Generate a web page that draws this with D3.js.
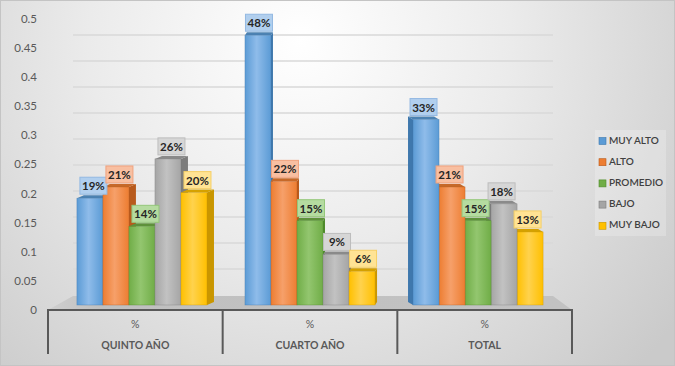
<!DOCTYPE html>
<html><head><meta charset="utf-8">
<script src="https://cdn.jsdelivr.net/npm/d3@7"></script>
<style>html,body{margin:0;padding:0;overflow:hidden;background:#fff}</style>
</head><body>
<svg id="c" width="675" height="366"></svg>
<script>
const categories = ["QUINTO AÑO", "CUARTO AÑO", "TOTAL"];
const subLabels = ["%", "%", "%"];
const seriesNames = ["MUY ALTO", "ALTO", "PROMEDIO", "BAJO", "MUY BAJO"];
const muyAlto = [0.19, 0.48, 0.33];
const alto = [0.21, 0.22, 0.21];
const promedio = [0.14, 0.15, 0.15];
const bajo = [0.26, 0.09, 0.18];
const muyBajo = [0.20, 0.06, 0.13];
const yTicks = [0, 0.05, 0.1, 0.15, 0.2, 0.25, 0.3, 0.35, 0.4, 0.45, 0.5];

const seriesValues = [muyAlto, alto, promedio, bajo, muyBajo];
const colors = ["#5B9BD5", "#ED7D31", "#70AD47", "#A5A5A5", "#FFC000"];
const lightColors = ["#8fbcea", "#f6a06a", "#93c66f", "#c2c2c2", "#ffd24d"];
const darkColors = ["#3f78ad", "#b85a1c", "#4f8a2c", "#7c7c7c", "#c99600"];
const boxFill = ["#b1cfee", "#f8bfa1", "#b5dba0", "#d6d6d6", "#ffe394"];
const boxStroke = ["#94b9e2", "#f0a27d", "#94c77a", "#bdbdbd", "#f5cf66"];

const svg = d3.select("#c");
const W = 675, H = 366;
const defs = svg.append("defs");
const FONT = "Lato, 'Open Sans', sans-serif";

// background
const bg = defs.append("radialGradient").attr("id", "bg")
  .attr("gradientUnits", "userSpaceOnUse").attr("cx", 300).attr("cy", 40).attr("r", 470);
bg.append("stop").attr("offset", 0).attr("stop-color", "#ffffff");
bg.append("stop").attr("offset", 0.45).attr("stop-color", "#ebebeb");
bg.append("stop").attr("offset", 1).attr("stop-color", "#cacaca");
svg.append("rect").attr("width", W).attr("height", H).attr("fill", "url(#bg)");
svg.append("rect").attr("x", 0.5).attr("y", 0.5).attr("width", W - 1).attr("height", H - 1)
  .attr("fill", "none").attr("stroke", "#c4c4c4");

// bar gradients
colors.forEach((c, i) => {
  const g = defs.append("linearGradient").attr("id", "g" + i).attr("x1", 0).attr("x2", 1).attr("y1", 0).attr("y2", 0);
  g.append("stop").attr("offset", 0).attr("stop-color", c);
  g.append("stop").attr("offset", 0.45).attr("stop-color", lightColors[i]);
  g.append("stop").attr("offset", 1).attr("stop-color", c);
});

// scales
const yFront = d3.scaleLinear().domain([0, 0.5]).range([305, 24]);
const yBack = d3.scaleLinear().domain([0, 0.5]).range([295, 35]);
const yLab = d3.scaleLinear().domain([0, 0.5]).range([311, 20]);
const xAxis = d3.scaleBand().domain(categories).range([48, 572]).padding(0);
const x0 = d3.scaleBand().domain(categories).range([48, 572]).paddingInner(0.226).paddingOuter(0.172);
const x1 = d3.scaleBand().domain(seriesNames).range([0, x0.bandwidth()]).padding(0);
const depthX = [7, 2, -5];
const depthY = -3;

// back wall gridlines
svg.append("g").selectAll("line").data(yTicks.slice(1)).join("line")
  .attr("x1", 73).attr("x2", 553)
  .attr("y1", d => yBack(d)).attr("y2", d => yBack(d))
  .attr("stroke", "#d9d9d9").attr("stroke-width", 1.3);

// floor
const floorGrad = defs.append("linearGradient").attr("id", "floor").attr("x1", 0).attr("x2", 1);
floorGrad.append("stop").attr("offset", 0).attr("stop-color", "#cfcfcf");
floorGrad.append("stop").attr("offset", 0.1).attr("stop-color", "#c0c0c0");
floorGrad.append("stop").attr("offset", 1).attr("stop-color", "#c2c2c2");
svg.append("path")
  .attr("d", `M48,${yFront(0) + 5}L73,${yBack(0) + 1}L553,${yBack(0) + 1}L572,${yFront(0) + 5}Z`)
  .attr("fill", "url(#floor)");

// y labels
svg.append("g").selectAll("text").data(yTicks).join("text")
  .attr("x", 37).attr("y", d => yLab(d)).attr("text-anchor", "end")
  .attr("dominant-baseline", "middle")
  .attr("font-family", FONT).attr("font-size", 11.5)
  .attr("fill", "#595959").text(d => String(+d.toFixed(2)));

// bars
const barsG = svg.append("g");
categories.forEach((cat, ci) => {
  const dx = depthX[ci];
  let order = seriesNames.map((s, si) => si);
  if (dx < 0) order = order.reverse();
  order.forEach(si => {
    const v = seriesValues[si][ci];
    const x = x0(cat) + x1(seriesNames[si]);
    const w = x1.bandwidth();
    const top = yFront(v), base = yFront(0);
    const g = barsG.append("g");
    const sx = dx > 0 ? x + w : x;
    g.append("path")
      .attr("d", `M${sx},${top}L${sx + dx},${top + depthY}L${sx + dx},${base + depthY}L${sx},${base}Z`)
      .attr("fill", darkColors[si]);
    g.append("path")
      .attr("d", `M${x},${top}L${x + w},${top}L${x + w + dx},${top + depthY}L${x + dx},${top + depthY}Z`)
      .attr("fill", d3.color(colors[si]).darker(0.5));
    g.append("rect").attr("x", x).attr("y", top).attr("width", w).attr("height", base - top)
      .attr("fill", "url(#g" + si + ")").attr("stroke", darkColors[si]).attr("stroke-width", 0.6).attr("stroke-opacity", 0.6);
  });
});

// data labels
const labG = svg.append("g");
categories.forEach((cat, ci) => {
  const dx = depthX[ci];
  seriesNames.forEach((s, si) => {
    const v = seriesValues[si][ci];
    const cx = x0(cat) + x1(s) + x1.bandwidth() / 2 + dx / 2;
    const top = yFront(v) + depthY;
    const bw = 27, bh = 17;
    labG.append("rect").attr("x", cx - bw / 2).attr("y", top - bh - 1).attr("width", bw).attr("height", bh)
      .attr("fill", boxFill[si]).attr("stroke", boxStroke[si]).attr("stroke-width", 1);
    labG.append("text").attr("x", cx).attr("y", top - bh / 2 - 1)
      .attr("text-anchor", "middle").attr("dominant-baseline", "central")
      .attr("font-family", FONT).attr("font-weight", "bold")
      .attr("font-size", 11.5).attr("fill", "#262626").text(Math.round(v * 100) + "%");
  });
});

// category axis box
const ax = svg.append("g").attr("stroke", "#595959").attr("stroke-width", 2);
ax.append("line").attr("x1", 48).attr("x2", 572).attr("y1", 310).attr("y2", 310);
const bounds = categories.map(c => xAxis(c)).concat([xAxis.range()[1]]);
ax.selectAll(".v").data(bounds).join("line").attr("class", "v")
  .attr("x1", d => d).attr("x2", d => d).attr("y1", 309).attr("y2", 354);

svg.append("g").selectAll("text").data(subLabels).join("text")
  .attr("x", (d, i) => xAxis(categories[i]) + xAxis.bandwidth() / 2).attr("y", 325).attr("text-anchor", "middle")
  .attr("dominant-baseline", "middle").attr("font-family", FONT)
  .attr("font-size", 10.5).attr("fill", "#595959").text(d => d);
svg.append("g").selectAll("text").data(categories).join("text")
  .attr("x", d => xAxis(d) + xAxis.bandwidth() / 2).attr("y", 346).attr("text-anchor", "middle")
  .attr("dominant-baseline", "middle").attr("font-family", FONT)
  .attr("font-weight", "bold").attr("font-size", 10.5).attr("fill", "#595959").text(d => d);

// legend
const lg = svg.append("g");
lg.append("rect").attr("x", 595).attr("y", 130).attr("width", 71).attr("height", 106)
  .attr("fill", "#ffffff").attr("fill-opacity", 0.22);
seriesNames.forEach((s, i) => {
  const y = 141 + i * 21.2;
  lg.append("rect").attr("x", 599).attr("y", y - 3.5).attr("width", 7).attr("height", 7)
    .attr("fill", colors[i]).attr("stroke", darkColors[i]).attr("stroke-width", 0.6);
  lg.append("text").attr("x", 609).attr("y", y).attr("dominant-baseline", "middle")
    .attr("font-family", FONT).attr("font-size", 10)
    .attr("font-weight", 600).attr("fill", "#404040").text(s);
});
</script>
</body></html>
